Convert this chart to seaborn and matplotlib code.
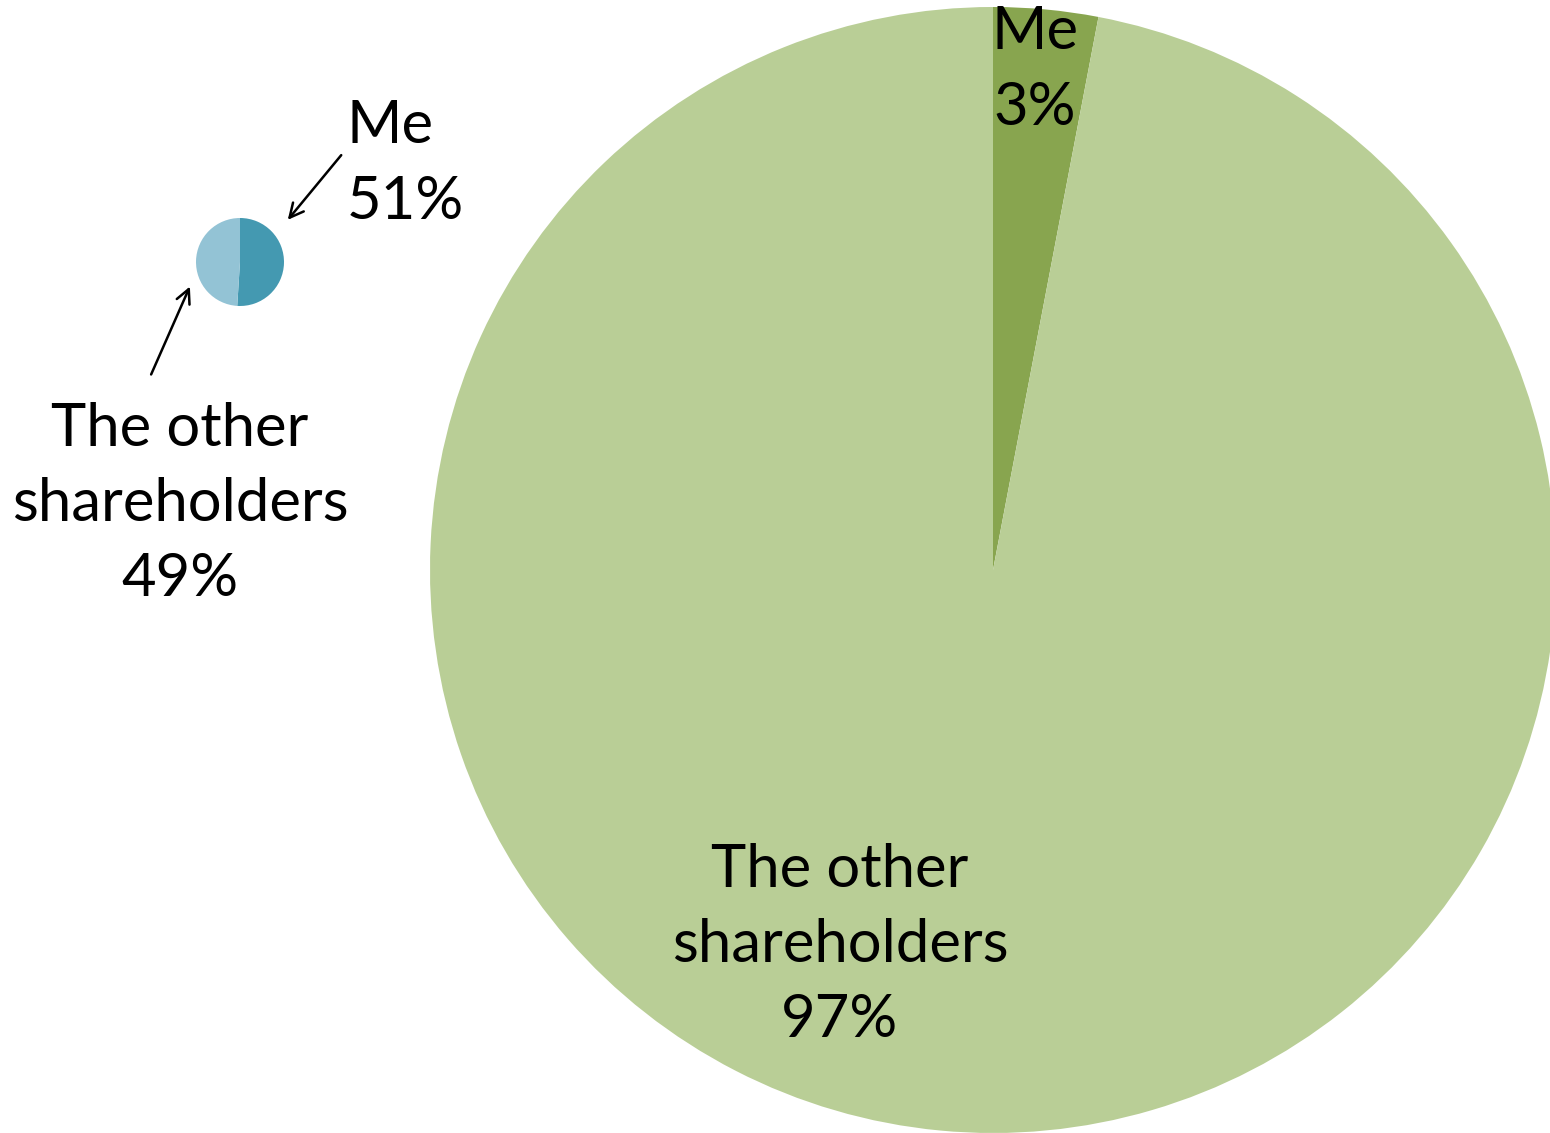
import matplotlib
matplotlib.use("Agg")
import matplotlib.pyplot as plt
import seaborn as sns

# Ownership split: the small company vs. the large company
small_labels = ["Me", "The other\nshareholders"]
small_shares = [51, 49]
large_labels = ["Me", "The other\nshareholders"]
large_shares = [3, 97]

small_colors = ["#4499B1", "#93C3D5"]
large_colors = ["#88A54F", "#B9CE96"]

sns.set_theme(style="white")
plt.rcParams["font.family"] = ["Lato", "DejaVu Sans"]
plt.rcParams["text.color"] = "black"

W, H = 1550, 1133
fig = plt.figure(figsize=(W / 100, H / 100), dpi=100)
ax = fig.add_axes([0, 0, 1, 1])

def py(y):
    return H - y

# Large pie (slices run clockwise from 12 o'clock)
ax.pie(large_shares, colors=large_colors, startangle=90, counterclock=False,
       center=(993, py(570)), radius=563, frame=True,
       wedgeprops=dict(linewidth=0))
# Small pie
ax.pie(small_shares, colors=small_colors, startangle=90, counterclock=False,
       center=(240, py(262)), radius=44, frame=True,
       wedgeprops=dict(linewidth=0))
ax.set_xlim(0, W)
ax.set_ylim(0, H)
ax.set_aspect("equal")
ax.axis("off")

fs = 43
lsp = 1.48

def lab(name, val):
    return f"{name}\n{val}%"

ax.text(1035, py(70), lab(large_labels[0], large_shares[0]), ha="center", va="center",
        fontsize=fs, linespacing=lsp, color="black")
ax.text(840, py(945), lab(large_labels[1], large_shares[1]), ha="center", va="center",
        fontsize=fs, linespacing=lsp, color="black")
ax.text(347, py(164), lab(small_labels[0], small_shares[0]), ha="left", va="center",
        fontsize=fs, linespacing=lsp, color="black")
ax.text(180, py(504), lab(small_labels[1], small_shares[1]), ha="center", va="center",
        fontsize=fs, linespacing=lsp, color="black")

arrow = dict(arrowstyle="->", color="black", lw=1.8, mutation_scale=25)
ax.annotate("", xy=(286, py(222)), xytext=(343, py(153)), arrowprops=arrow)
ax.annotate("", xy=(191, py(284)), xytext=(150, py(377)), arrowprops=arrow)

fig.savefig("out.png", dpi=100, facecolor="white")
